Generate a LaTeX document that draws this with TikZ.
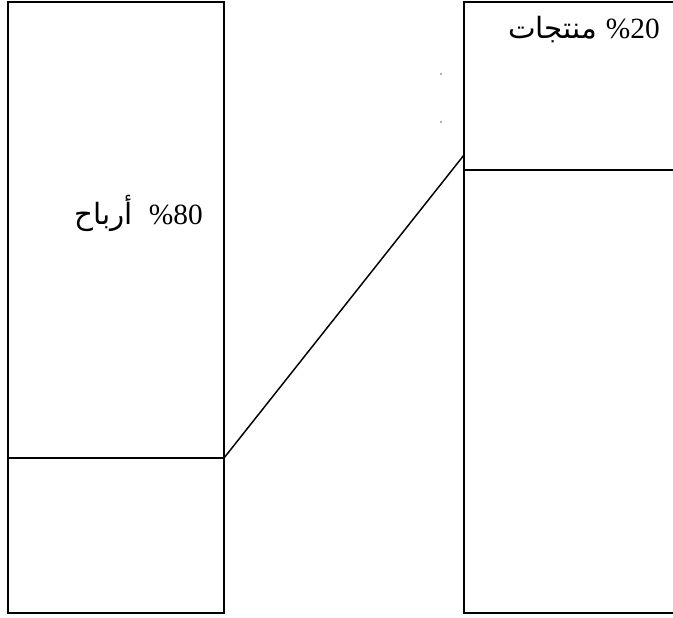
\documentclass[tikz,border=0pt]{standalone}
\usepackage{fontspec}
\setmainfont{Liberation Serif}
\newfontfamily\arabicfont[Script=Arabic]{DejaVu Sans}
\TeXXeTstate=1
\begin{document}
\begin{tikzpicture}[x=0.75pt,y=-0.75pt,
  boxline/.style={line width=1.1pt,black},
  lbl/.style={inner sep=0pt,font=\fontsize{22}{24}\selectfont}]
\useasboundingbox (0,0) rectangle (673,617);
% left column
\draw[boxline] (8,2) rectangle (224,613);
\coordinate (lsplitA) at (8,458);
\coordinate (lsplit) at (224,458);
\draw[boxline] (lsplitA) -- (lsplit);
% right column (right edge outside the picture)
\draw[boxline] (673,2) -- (464,2) -- (464,613) -- (673,613);
\coordinate (rsplitA) at (464,170);
\coordinate (rsplitB) at (673,170);
\draw[boxline] (rsplitA) -- (rsplitB);
\coordinate (rjoin) at (464,155);
% connector
\draw[boxline] (lsplit) -- (rjoin);
% labels
\node[lbl,anchor=base east] (profit) at (203,224) {{\arabicfont\beginR أرباح\endR}\hspace{0.55em}\%80};
\node[lbl,anchor=base east] (products) at (660,39) {{\arabicfont\beginR منتجات\endR}\hspace{0.3em}\%20};
% small dots
\fill[black!60] (441,74) circle (0.8);
\fill[black!60] (441,122) circle (0.8);
\end{tikzpicture}
\end{document}
